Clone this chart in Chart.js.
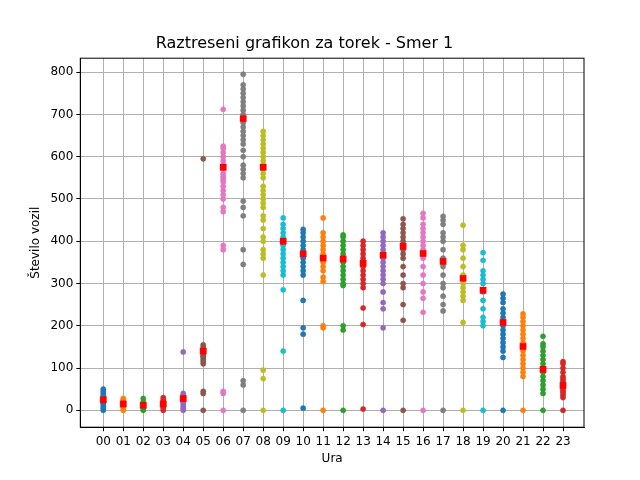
<!DOCTYPE html>
<html>
<head>
<meta charset="utf-8">
<script src="https://cdn.jsdelivr.net/npm/chart.js@4"></script>
<style>body{margin:0;background:#fff}</style>
</head>
<body>
<canvas id="graf" width="640" height="480"></canvas>
<script>
// podatki - ure in vrednosti
var ure = ['00','01','02','03','04','05','06','07','08','09','10','11','12','13','14','15','16','17','18','19','20','21','22','23'];
var barve = ['#1f77b4','#ff7f0e','#2ca02c','#d62728','#9467bd','#8c564b','#e377c2','#7f7f7f','#bcbd22','#17becf'];
var h00 = [0,5,10,15,20,25,30,35,40,45,50,22,28,18];
var h01 = [0,5,10,15,20,25,28,12,18];
var h02 = [0,5,10,15,20,28,12,8];
var h03 = [0,5,10,15,20,25,30,12,18];
var h04 = [0,5,10,15,20,25,30,35,40,138,28,22];
var h05 = [0,40,45,110,115,120,125,130,135,140,145,150,155,595,138,128];
var h06 = [0,40,45,380,390,470,480,500,510,520,530,540,550,560,570,580,590,600,610,620,625,712,545,555];
var h07 = [0,60,70,345,380,460,480,495,550,560,570,580,600,615,630,640,650,660,670,680,690,700,710,720,730,740,750,760,770,795];
var h08 = [0,75,95,320,360,370,380,400,410,430,450,460,480,490,500,510,520,530,550,560,570,580,590,600,610,620,630,640,650,660];
var h09 = [0,140,285,320,330,340,350,360,370,380,390,400,410,420,430,440,455];
var h10 = [5,180,195,260,320,330,340,350,360,370,380,390,400,410,420,428];
var h11 = [0,195,200,305,315,330,340,350,360,370,380,390,400,410,420,455];
var h12 = [0,190,200,295,300,310,320,330,340,350,360,370,380,390,400,410,415];
var h13 = [3,203,242,290,300,310,320,330,340,350,360,370,380,390,400];
var h14 = [0,195,240,255,280,300,310,320,330,340,350,360,370,380,390,400,410,420];
var h15 = [0,213,250,290,300,320,340,360,370,380,390,400,410,420,430,440,453];
var h16 = [0,232,265,280,300,320,340,360,370,380,390,400,410,420,430,440,455,466];
var h17 = [0,235,250,270,290,300,320,340,360,380,400,410,420,440,450,459];
var h18 = [0,208,260,270,280,290,300,320,340,360,380,390,438];
var h19 = [0,200,210,220,240,260,280,300,310,320,330,355,373];
var h20 = [0,125,140,150,160,170,180,190,200,210,220,230,240,255,265,275];
var h21 = [0,80,90,100,110,120,130,140,150,160,170,180,190,200,210,220,228];
var h22 = [0,40,50,60,70,80,90,100,110,120,130,140,150,157,175];
var h23 = [0,30,35,40,45,50,55,60,65,70,75,80,90,100,110,115];
var povprecja = [25,15,12,15,28,140,575,690,575,400,370,360,358,348,367,388,371,352,312,284,208,151,97,59];
var vseUre = [h00,h01,h02,h03,h04,h05,h06,h07,h08,h09,h10,h11,h12,h13,h14,h15,h16,h17,h18,h19,h20,h21,h22,h23];
var yTicks = [0,100,200,300,400,500,600,700,800];

var datasets = [];
// povprecje (rdeci kvadratki) narisemo cez
datasets.push({
    data: povprecja.map(function(v, i){ return {x: i, y: v}; }),
    pointStyle: 'rect', pointRadius: 4.5, backgroundColor: 'red', borderColor: 'rgba(255,0,0,0.3)', borderWidth: 1, order: 0
});
vseUre.forEach(function(arr, i){
    datasets.push({
        data: arr.map(function(v){ return {x: i, y: v}; }),
        pointRadius: 2.6, pointBorderWidth: 0.8,
        backgroundColor: barve[i % 10], borderColor: barve[i % 10] + '99', order: 1
    });
});

// okvir okrog grafa
var okvir = {
    id: 'okvir',
    afterDraw: function(chart){
        var a = chart.chartArea, c = chart.ctx;
        c.save(); c.strokeStyle = '#000'; c.lineWidth = 1;
        c.strokeRect(a.left, a.top, a.right - a.left, a.bottom - a.top);
        c.restore();
    }
};

Chart.defaults.font.family = 'DejaVu Sans';
var ctx = document.getElementById('graf').getContext('2d');
var myChart = new Chart(ctx, {
    type: 'scatter',
    data: { datasets: datasets },
    plugins: [okvir],
    options: {
        responsive: false, animation: false,
        layout: { padding: { left: 25, right: 56, top: 4, bottom: 10 } },
        plugins: {
            legend: { display: false }, tooltip: { enabled: false },
            title: { display: true, text: 'Raztreseni grafikon za torek - Smer 1', color: '#000', font: { size: 16, weight: 'normal' }, padding: { top: 30, bottom: 5 } }
        },
        scales: {
            x: {
                type: 'linear', min: -1.15, max: 24.05,
                afterBuildTicks: function(s){ s.ticks = ure.map(function(u, i){ return {value: i}; }); },
                ticks: { color: '#000', font: { size: 12 }, maxRotation: 0, autoSkip: false, callback: function(v){ return ure[v]; } },
                grid: { color: '#b0b0b0', tickLength: 4, tickColor: '#000' },
                border: { color: '#000' },
                title: { display: true, text: 'Ura', color: '#000', font: { size: 12 }, padding: { top: 0 } }
            },
            y: {
                min: -40, max: 833,
                afterBuildTicks: function(s){ s.ticks = yTicks.map(function(v){ return {value: v}; }); },
                ticks: { color: '#000', font: { size: 12 } },
                grid: { color: '#b0b0b0', tickLength: 4, tickColor: '#000' },
                border: { color: '#000' },
                title: { display: true, text: 'Število vozil', color: '#000', font: { size: 12 } }
            }
        }
    }
});
</script>
</body>
</html>
